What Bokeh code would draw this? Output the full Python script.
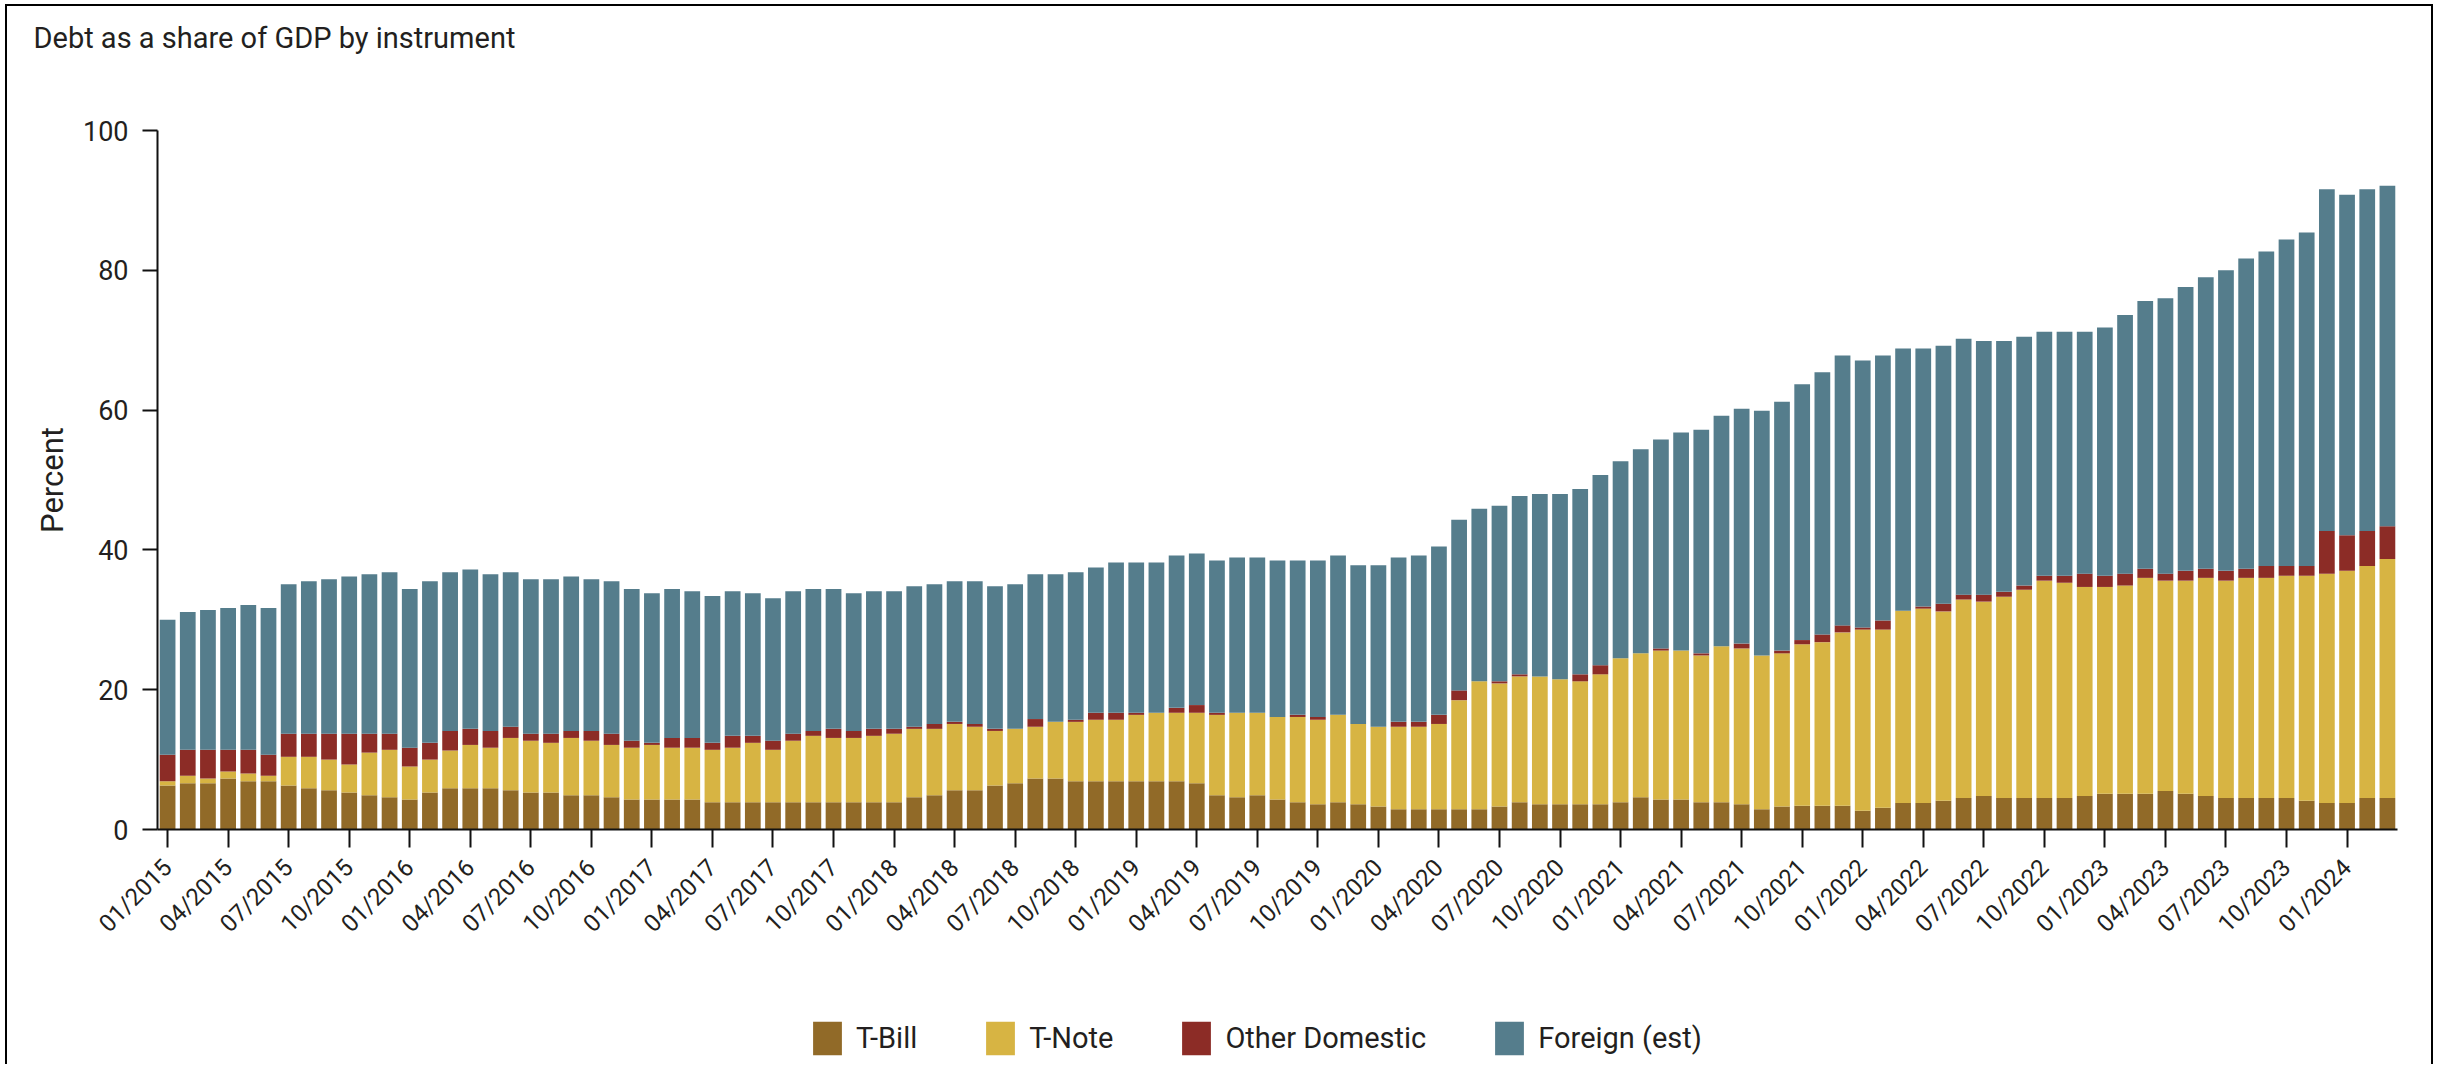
import math
from bokeh.plotting import figure
from bokeh.layouts import column
from bokeh.models import (ColumnDataSource, FixedTicker, Legend, LegendItem, Title)
from bokeh.embed import file_html
from bokeh.resources import INLINE

# ---------------- data (percent of GDP, monthly 01/2015 .. 03/2024) ----------------
tick_labels = ["01/2015", "04/2015", "07/2015", "10/2015", "01/2016", "04/2016", "07/2016", "10/2016",
               "01/2017", "04/2017", "07/2017", "10/2017", "01/2018", "04/2018", "07/2018", "10/2018",
               "01/2019", "04/2019", "07/2019", "10/2019", "01/2020", "04/2020", "07/2020", "10/2020",
               "01/2021", "04/2021", "07/2021", "10/2021", "01/2022", "04/2022", "07/2022", "10/2022",
               "01/2023", "04/2023", "07/2023", "10/2023", "01/2024"]

series_names = ["T-Bill", "T-Note", "Other Domestic", "Foreign (est)"]

t_bill = [6.3, 6.6, 6.6, 7.3, 6.9, 6.9, 6.3, 5.9, 5.6, 5.3, 4.9, 4.6,
          4.3, 5.3, 5.9, 5.9, 5.9, 5.6, 5.3, 5.3, 4.9, 4.9, 4.6, 4.3,
          4.3, 4.3, 4.3, 3.9, 3.9, 3.9, 3.9, 3.9, 3.9, 3.9, 3.9, 3.9,
          3.9, 4.6, 4.9, 5.6, 5.6, 6.3, 6.6, 7.3, 7.3, 6.9, 6.9, 6.9,
          6.9, 6.9, 6.9, 6.6, 4.9, 4.6, 4.9, 4.3, 3.9, 3.6, 3.9, 3.6,
          3.3, 2.9, 2.9, 2.9, 2.9, 2.9, 3.3, 3.9, 3.6, 3.6, 3.6, 3.6,
          3.9, 4.6, 4.3, 4.3, 3.9, 3.9, 3.6, 2.9, 3.3, 3.4, 3.4, 3.4,
          2.7, 3.1, 3.8, 3.8, 4.1, 4.5, 4.8, 4.5, 4.5, 4.5, 4.5, 4.8,
          5.1, 5.1, 5.1, 5.5, 5.1, 4.8, 4.5, 4.5, 4.5, 4.5, 4.1, 3.8,
          3.8, 4.5, 4.5]

t_note = [0.6, 1.1, 0.7, 1.0, 1.1, 0.8, 4.1, 4.5, 4.4, 4.0, 6.1, 6.8,
          4.7, 4.7, 5.4, 6.2, 5.8, 7.5, 7.4, 7.1, 8.2, 7.8, 7.5, 7.4,
          7.8, 7.4, 7.4, 7.5, 7.8, 8.5, 7.5, 8.8, 9.5, 9.2, 9.2, 9.5,
          9.8, 9.8, 9.5, 9.5, 9.1, 7.8, 7.8, 7.4, 8.1, 8.5, 8.8, 8.8,
          9.5, 9.8, 9.8, 10.1, 11.5, 12.1, 11.8, 11.8, 12.2, 12.1, 12.5, 11.5,
          11.4, 11.8, 11.8, 12.2, 15.6, 18.3, 17.6, 18.0, 18.3, 17.9, 17.6, 18.6,
          20.6, 20.6, 21.3, 21.3, 21.0, 22.3, 22.3, 22.0, 21.9, 23.1, 23.4, 24.8,
          25.9, 25.5, 27.5, 27.8, 27.1, 28.4, 27.8, 28.8, 29.8, 31.1, 30.8, 29.9,
          29.6, 29.8, 30.9, 30.1, 30.5, 31.2, 31.1, 31.5, 31.5, 31.8, 32.2, 32.8,
          33.2, 33.2, 34.2]

other_domestic = [3.8, 3.7, 4.1, 3.1, 3.4, 3.0, 3.3, 3.3, 3.7, 4.4, 2.7, 2.3,
                  2.7, 2.4, 2.8, 2.3, 2.4, 1.6, 1.0, 1.3, 1.0, 1.4, 1.6, 1.0,
                  0.3, 1.4, 1.4, 1.0, 1.7, 1.0, 1.3, 1.0, 0.7, 1.3, 1.0, 1.0,
                  0.7, 0.3, 0.7, 0.3, 0.4, 0.3, 0.0, 1.1, 0.0, 0.3, 1.0, 1.0,
                  0.3, 0.0, 0.7, 1.1, 0.3, 0.0, 0.0, 0.0, 0.3, 0.4, 0.0, 0.0,
                  0.0, 0.7, 0.7, 1.3, 1.4, 0.0, 0.3, 0.3, 0.0, 0.0, 1.0, 1.3,
                  0.0, 0.0, 0.3, 0.0, 0.3, 0.0, 0.7, 0.0, 0.4, 0.6, 1.1, 1.0,
                  0.3, 1.3, 0.0, 0.3, 1.1, 0.7, 1.0, 0.7, 0.6, 0.7, 1.0, 1.9,
                  1.6, 1.7, 1.3, 1.0, 1.4, 1.3, 1.4, 1.3, 1.7, 1.4, 1.4, 6.1,
                  5.1, 5.0, 4.7]

foreign = [19.3, 19.7, 20.0, 20.3, 20.7, 21.0, 21.4, 21.8, 22.1, 22.5, 22.8, 23.1,
           22.7, 23.1, 22.7, 22.8, 22.4, 22.1, 22.1, 22.1, 22.1, 21.7, 21.8, 21.7,
           21.4, 21.3, 21.0, 21.0, 20.7, 20.4, 20.4, 20.4, 20.3, 20.0, 19.7, 19.7,
           19.7, 20.1, 20.0, 20.1, 20.4, 20.4, 20.7, 20.7, 21.1, 21.1, 20.8, 21.5,
           21.5, 21.5, 21.8, 21.7, 21.8, 22.2, 22.2, 22.4, 22.1, 22.4, 22.8, 22.7,
           23.1, 23.5, 23.8, 24.1, 24.4, 24.7, 25.1, 25.5, 26.1, 26.5, 26.5, 27.2,
           28.2, 29.2, 29.9, 31.2, 32.0, 33.0, 33.6, 35.0, 35.6, 36.6, 37.5, 38.6,
           38.2, 37.9, 37.5, 36.9, 36.9, 36.6, 36.3, 35.9, 35.6, 34.9, 34.9, 34.6,
           35.5, 37.0, 38.3, 39.4, 40.6, 41.7, 43.0, 44.4, 45.0, 46.7, 47.7, 48.9,
           48.7, 48.9, 48.7]

colors = ["#916A28", "#D7B443", "#8C2C26", "#557D8C"]

# ---------------- main figure ----------------
FONT = "Roboto"
TEXT = "#231F20"
W = 2428

n = len(t_bill)
month_index = list(range(n))
source = ColumnDataSource(dict(x=month_index, tbill=t_bill, tnote=t_note,
                               other=other_domestic, foreign=foreign))

p = figure(width=W, height=960, x_range=(-0.5, n - 0.5), y_range=(0, 100),
           output_backend="svg", toolbar_location=None,
           min_border_left=150, min_border_right=38, min_border_top=124, min_border_bottom=137)
p.styles = {"border-top": "2px solid #000", "border-left": "2px solid #000",
            "border-right": "2px solid #000"}

renderers = p.vbar_stack(["tbill", "tnote", "other", "foreign"], x="x", width=0.78,
                         color=colors, line_color=None, source=source)

# spacer between the title and the plot area (closest to the frame)
p.add_layout(Title(text=" ", text_font_size="10px", standoff=58), "above")
p.title = Title(text="Debt as a share of GDP by instrument", text_font=FONT,
                text_font_size="29px", text_font_style="normal", text_color=TEXT,
                align="left", offset=-124, vertical_align="bottom", standoff=10)

p.outline_line_color = None
p.xgrid.grid_line_color = None
p.ygrid.grid_line_color = None
p.background_fill_color = "white"
p.border_fill_color = "white"

# y axis
yax = p.yaxis[0]
yax.ticker = FixedTicker(ticks=[0, 20, 40, 60, 80, 100])
yax.axis_label = "Percent"
yax.axis_label_text_font = FONT
yax.axis_label_text_font_size = "31px"
yax.axis_label_text_font_style = "normal"
yax.axis_label_text_color = TEXT
yax.axis_label_standoff = 9
yax.major_label_text_font = FONT
yax.major_label_text_font_size = "27px"
yax.major_label_text_color = TEXT
yax.major_label_standoff = 14
yax.axis_line_color = "#111"
yax.axis_line_width = 2
yax.major_tick_line_color = "#111"
yax.major_tick_line_width = 2
yax.major_tick_out = 15
yax.major_tick_in = 0
yax.minor_tick_line_color = None

# x axis
xax = p.xaxis[0]
tick_pos = [3 * i for i in range(len(tick_labels))]
xax.ticker = FixedTicker(ticks=tick_pos)
xax.major_label_overrides = {t: lab for t, lab in zip(tick_pos, tick_labels)}
xax.major_label_orientation = math.pi / 4
xax.major_label_text_font = FONT
xax.major_label_text_font_size = "24px"
xax.major_label_text_color = TEXT
xax.major_label_standoff = 16
xax.axis_line_color = "#111"
xax.axis_line_width = 2
xax.major_tick_line_color = "#111"
xax.major_tick_line_width = 2
xax.major_tick_out = 18
xax.major_tick_in = 0
xax.minor_tick_line_color = None

# ---------------- legend strip ----------------
leg = figure(width=W, height=100, output_backend="svg", toolbar_location=None,
             x_range=(0, 1), y_range=(0, 1), x_axis_type=None, y_axis_type=None,
             min_border_left=0, min_border_right=0, min_border_top=0, min_border_bottom=0)
leg.styles = {"border-left": "2px solid #000", "border-right": "2px solid #000"}
leg.outline_line_color = None
leg.xgrid.grid_line_color = None
leg.ygrid.grid_line_color = None
# zero-height proxy bars, used only to give the legend its colour swatches
swatches = [leg.vbar(x=[0], top=[0], bottom=[0], width=0.0, fill_color=c, line_color=None)
            for c in colors]

legend = Legend(items=[LegendItem(label=name, renderers=[r]) for name, r in zip(series_names, swatches)],
                orientation="horizontal", location=(652, 5),
                label_text_font=FONT, label_text_font_size="29px", label_text_color=TEXT,
                glyph_width=36, glyph_height=42, label_standoff=11, spacing=65,
                border_line_color=None, background_fill_alpha=0, margin=0, padding=0)
leg.add_layout(legend, "center")

layout = column(p, leg, spacing=0, styles={"margin-left": "5px", "margin-top": "4px"})

open("out.html", "w").write(file_html(layout, INLINE))
